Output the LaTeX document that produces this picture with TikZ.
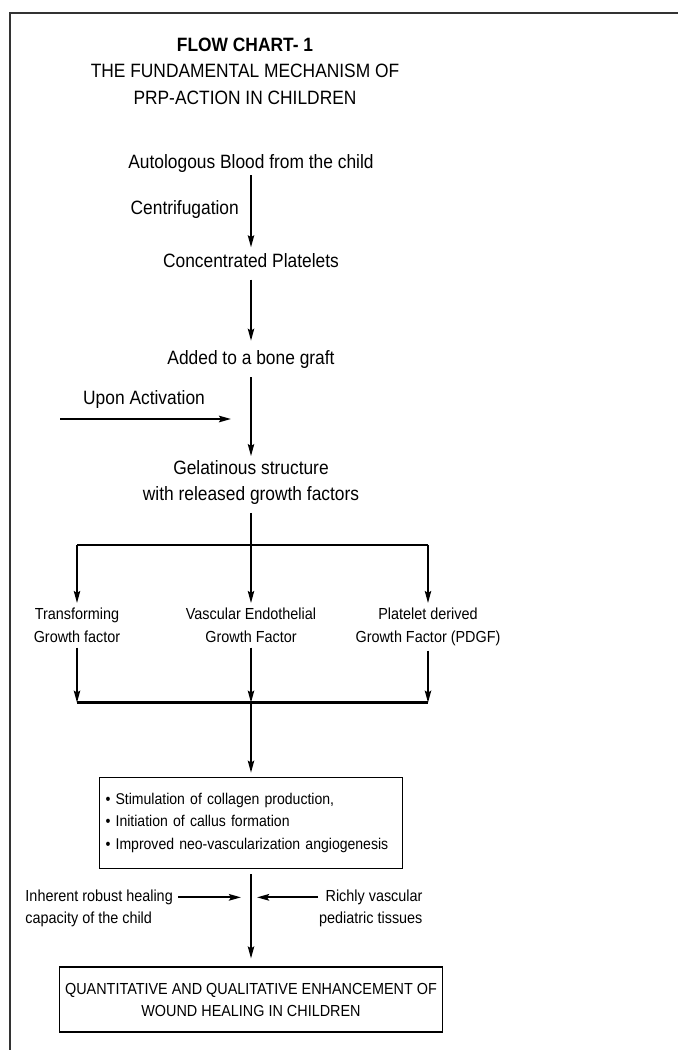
\documentclass[tikz,border=0pt]{standalone}
\usepackage{fontspec}
\setmainfont[FakeStretch=0.9]{Liberation Sans}
\usepackage{tikz}
\usetikzlibrary{positioning,calc,arrows.meta}

\begin{document}
\begin{tikzpicture}[
    x=1pt, y=-1pt,
    txt/.style={inner sep=0pt, align=center, text height=14pt, text depth=4pt, font=\fontsize{19.3}{26.5}\selectfont}, % одна строка
    mtxt/.style={inner sep=0pt, align=center, font=\fontsize{19.3}{26.5}\selectfont}, % несколько строк
    smalltxt/.style={inner sep=0pt, align=center, font=\fontsize{16}{22.5}\selectfont}, % мелкий текст
    box/.style={draw, line width=1.8pt, font=\fontsize{16}{22.5}\selectfont}, % рамки
    arrow/.style={-{Stealth[length=12pt,width=6.5pt,inset=2pt]}, line width=1.2pt}, % стрелки
    bar/.style={line width=2.2pt} % горизонтальные шины
    ]

    % Поле и рамка
    \useasboundingbox (0,0) rectangle (678,1050);
    \draw[line width=2pt, black!80] (10,1050) -- (10,13) -- (678,13);

    % Заголовок
    \node[mtxt] (title) at (245,71) {\textbf{FLOW CHART- 1}\\THE FUNDAMENTAL MECHANISM OF\\PRP-ACTION IN CHILDREN};

    % Основная цепочка
    \node[txt] (blood) at (251,163) {Autologous Blood from the child};
    \node[txt, below=81pt of blood] (plt) {Concentrated Platelets};
    \node[txt, below=79pt of plt] (graft) {Added to a bone graft};
    \node[mtxt, below=91pt of graft] (gel) {Gelatinous structure\\with released growth factors};

    \draw[arrow, shorten <=3pt, shorten >=6pt] (blood) -- (plt);
    \node[txt, left=12pt of $(blood)!0.47!(plt)$] (cent) {Centrifugation};
    \draw[arrow, shorten <=8pt, shorten >=10pt] (plt) -- (graft);
    \draw[arrow, shorten <=8pt, shorten >=4pt] (graft) -- (gel);

    % Активация
    \coordinate (act) at (60,419);
    \node[txt, above right=10pt and 23pt of act] (upon) {Upon Activation};
    \draw[arrow, line width=2pt, shorten >=20pt] (act) -- (act -| graft);

    % Факторы роста
    \coordinate[below=40pt of gel] (split);
    \node[smalltxt, below=63pt of split] (vegf) {Vascular Endothelial\\Growth Factor};
    \node[smalltxt, below=63pt of split, xshift=-174pt] (tgf) {Transforming\\Growth factor};
    \node[smalltxt, below=63pt of split, xshift=177pt] (pdgf) {Platelet derived\\Growth Factor (PDGF)};
    \coordinate[below=60pt of vegf] (merge);

    \draw[line width=1.2pt, shorten <=8pt] (gel) -- (split);
    \draw[bar] (split -| tgf) -- (split -| pdgf);
    \foreach \f in {tgf,vegf,pdgf}
        \draw[arrow, shorten >=5pt] (split -| \f) -- (\f);
    \foreach \f in {tgf,vegf,pdgf}
        \draw[arrow, shorten <=5pt] (\f) -- (\f |- merge);
    \draw[bar] (merge -| tgf) -- (merge -| pdgf);

    % Эффекты
    \node[box, align=left, font=\fontsize{15.6}{22.5}\selectfont, text width=291pt, inner xsep=6pt, minimum height=91pt, below=74pt of merge] (effects) {\textbullet\ Stimulation of collagen production,\\\textbullet\ Initiation of callus formation\\\textbullet\ Improved neo-vascularization angiogenesis};
    \draw[arrow, shorten >=4pt] (merge) -- (effects);

    % Дополнительные факторы
    \coordinate[below=28pt of effects] (meet);
    \node[smalltxt, align=left, left=78pt of meet, yshift=-11pt] (inh) {Inherent robust healing\\capacity of the child};
    \node[smalltxt, align=right, right=68pt of meet, yshift=-11pt] (rich) {Richly vascular\\pediatric tissues};
    \draw[arrow, line width=2pt, shorten <=5pt, shorten >=10pt] (inh.east |- meet) -- (meet);
    \draw[arrow, line width=2pt, shorten <=1pt, shorten >=6pt] (rich.west |- meet) -- (meet);

    % Итог
    \node[box, align=center, minimum width=383pt, minimum height=65pt, below=69pt of meet] (final) {QUANTITATIVE AND QUALITATIVE ENHANCEMENT OF\\WOUND HEALING IN CHILDREN};
    \draw[arrow, shorten <=5pt, shorten >=8pt] (effects) -- (final);

\end{tikzpicture}
\end{document}
